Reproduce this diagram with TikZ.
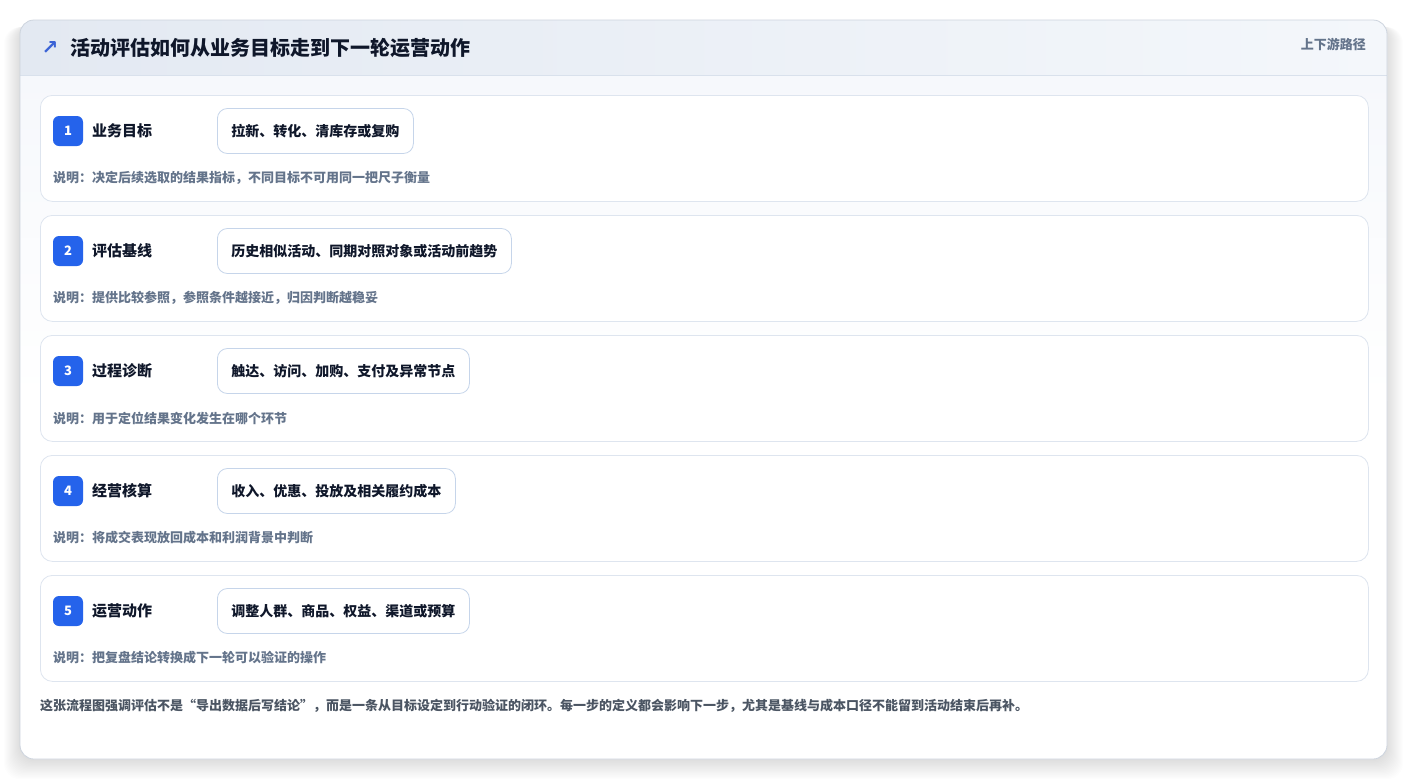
\documentclass[tikz,border=0pt]{standalone}
\usepackage{fontspec}
\setmainfont{Noto Sans CJK SC}
\newfontfamily\symfont{DejaVu Sans}
\definecolor{badgeblue}{HTML}{2563EB}
\definecolor{titlecol}{HTML}{0F172A}
\definecolor{desccol}{HTML}{64748B}
\definecolor{footcol}{HTML}{4B5563}
\definecolor{chipborder}{HTML}{C6D5EA}
\definecolor{cardborder}{HTML}{DEE5EF}
\definecolor{outerborder}{HTML}{CDD4DE}
\definecolor{hdrL}{HTML}{E3E9F2}
\definecolor{hdrR}{HTML}{F4F7FB}
\definecolor{hdrline}{HTML}{D9E1EC}
\definecolor{bodytop}{HTML}{F6F8FC}
\definecolor{arrowcol}{HTML}{3B63D6}
\pgfdeclarelayer{background}
\pgfsetlayers{background,main}
\begin{document}
\begin{tikzpicture}[x=1pt,y=-1pt,
  stepcard/.style={draw=cardborder, fill=white, rounded corners=12pt, line width=0.8pt,
    minimum width=1328pt, minimum height=106pt, anchor=north west, inner sep=0pt},
  badge/.style={fill=badgeblue, rounded corners=6pt, minimum size=30pt, inner sep=0pt,
    text=white, font=\fontsize{13}{15}\selectfont\bfseries},
  steptitle/.style={anchor=west, inner sep=0pt, text=titlecol, font=\fontsize{15}{17}\selectfont\bfseries},
  chip/.style={draw=chipborder, fill=white, rounded corners=10pt, line width=0.8pt,
    minimum height=45pt, inner xsep=14pt, anchor=west, text=titlecol,
    font=\fontsize{14}{16}\selectfont\bfseries},
  desc/.style={anchor=west, inner sep=0pt, text=desccol, font=\fontsize{13}{15}\selectfont\bfseries},
]
\useasboundingbox (0,0) rectangle (1408,780);
\fill[white] (0,0) rectangle (1408,780);
% card shadow
\foreach \i in {1,...,16}{
  \fill[black, opacity=0.008, rounded corners=16pt] (20-\i,20+0.2*\i+4) rectangle (1387+\i,759+1.2*\i+1);
}
% card
\fill[white, rounded corners=14pt] (20,20) rectangle (1387,759);
\begin{scope}
  \clip[rounded corners=14pt] (20,20) rectangle (1387,759);
  \shade[top color=bodytop, bottom color=white] (20,75) rectangle (1387,400);
  \shade[left color=hdrL, right color=hdrR] (20,20) rectangle (1387,75);
\end{scope}
\draw[hdrline, line width=0.8pt] (20,75) -- (1387,75);
\draw[outerborder, line width=0.8pt, rounded corners=14pt] (20,20) rectangle (1387,759);
% header
\node[anchor=center, inner sep=0pt, text=arrowcol, font=\symfont\fontsize{20}{22}\selectfont\bfseries] (icon) at (50,48) {↗};
\node[anchor=west, inner sep=0pt, text=titlecol, font=\fontsize{20}{22}\selectfont\bfseries] (title) at (70,48) {活动评估如何从业务目标走到下一轮运营动作};
\node[anchor=east, inner sep=0pt, text=desccol, font=\fontsize{13}{15}\selectfont\bfseries] (tag) at (1366,44) {上下游路径};
% steps
\foreach \n/\y/\t/\c/\d in {
  1/95/业务目标/{拉新、转化、清库存或复购}/{说明：决定后续选取的结果指标，不同目标不可用同一把尺子衡量},
  2/215/评估基线/{历史相似活动、同期对照对象或活动前趋势}/{说明：提供比较参照，参照条件越接近，归因判断越稳妥},
  3/335/过程诊断/{触达、访问、加购、支付及异常节点}/{说明：用于定位结果变化发生在哪个环节},
  4/455/经营核算/{收入、优惠、投放及相关履约成本}/{说明：将成交表现放回成本和利润背景中判断},
  5/575/运营动作/{调整人群、商品、权益、渠道或预算}/{说明：把复盘结论转换成下一轮可以验证的操作}}{
  \node[stepcard] (card\n) at (40,\y) {};
  \node[badge] (badge\n) at (68,\y+36) {\n};
  \node[steptitle] (stitle\n) at (92,\y+36) {\t};
  \node[chip] (chip\n) at (217,\y+36) {\c};
  \node[desc] (desc\n) at (53,\y+83) {\d};
  \begin{pgfonlayer}{background}
    \fill[black, opacity=0.03, rounded corners=11pt] ([xshift=-1pt,yshift=-4pt]chip\n.south west) rectangle ([xshift=1pt,yshift=-1pt]chip\n.north east);
    \fill[black, opacity=0.025, rounded corners=12pt] ([xshift=-3pt,yshift=-8pt]chip\n.south west) rectangle ([xshift=3pt,yshift=-2pt]chip\n.north east);
  \end{pgfonlayer}
}
% footer
\node[anchor=west, inner sep=0pt, text=footcol, font=\fontsize{13}{15}\selectfont\bfseries] (foot) at (40,706) {这张流程图强调评估不是“导出数据后写结论”，而是一条从目标设定到行动验证的闭环。每一步的定义都会影响下一步，尤其是基线与成本口径不能留到活动结束后再补。};
\end{tikzpicture}
\end{document}
